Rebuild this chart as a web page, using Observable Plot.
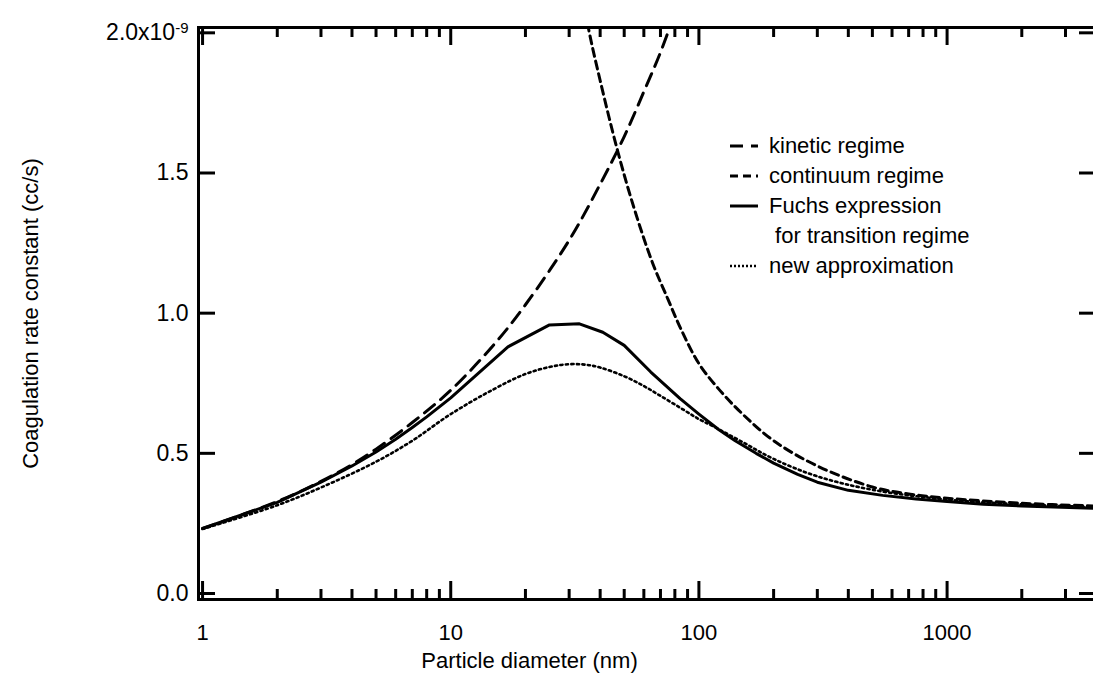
<!DOCTYPE html>
<html>
<head>
<meta charset="utf-8">
<script src="https://cdn.jsdelivr.net/npm/d3@7"></script>
<script src="https://cdn.jsdelivr.net/npm/@observablehq/plot@0.6"></script>
<style>
  html, body { margin: 0; padding: 0; background: #fff; overflow: hidden; }
  #wrap { position: relative; width: 1093px; height: 688px; overflow: hidden; }
  #legend { position: absolute; left: 729px; top: 131px; font-family: "Liberation Sans", Arial, sans-serif; font-size: 22px; color: #000; }
  #legend .row { height: 30px; display: flex; align-items: center; white-space: pre; }
  #legend svg { flex: none; margin-right: 10px; }
</style>
</head>
<body>
<div id="wrap"><div id="legend"></div></div>
<script>
// Values in units of 1e-9 cc/s
const kineticD = [1, 2, 3, 4, 5, 7, 10, 15, 20, 30, 40, 50, 60, 70, 80];
const kineticK = [0.232, 0.328, 0.40, 0.46, 0.515, 0.61, 0.725, 0.89, 1.03, 1.26, 1.46, 1.63, 1.79, 1.93, 2.07];

const continuumD = [30, 33, 36, 40, 47, 55, 65, 75, 85, 100, 120, 150, 200, 300, 500, 700, 1000, 2000, 4000];
const continuumK = [2.40, 2.20, 2.01, 1.83, 1.58, 1.37, 1.18, 1.05, 0.94, 0.82, 0.73, 0.64, 0.545, 0.455, 0.38, 0.355, 0.34, 0.322, 0.312];

const fuchsD = [1, 2, 3, 4, 5, 6, 7, 8, 10, 17, 25, 33, 41, 50, 64, 84, 100, 120, 140, 170, 200, 250, 300, 400, 550, 750, 1000, 1400, 2000, 4000];
const fuchsK = [0.232, 0.325, 0.397, 0.455, 0.505, 0.55, 0.592, 0.63, 0.698, 0.88, 0.958, 0.962, 0.932, 0.885, 0.79, 0.695, 0.64, 0.585, 0.545, 0.50, 0.465, 0.425, 0.397, 0.368, 0.35, 0.337, 0.328, 0.318, 0.312, 0.304];

const approxD = [1, 2, 3, 5, 7, 10, 15, 20, 25, 30, 35, 40, 50, 60, 70, 85, 100, 115, 150, 200, 300, 500, 1000, 2000, 4000];
const approxK = [0.23, 0.315, 0.378, 0.47, 0.545, 0.64, 0.73, 0.783, 0.808, 0.818, 0.816, 0.806, 0.775, 0.74, 0.705, 0.66, 0.622, 0.595, 0.54, 0.48, 0.418, 0.37, 0.335, 0.318, 0.308];

const xMajor = [1, 10, 100, 1000];
const xMinor = [2, 3, 4, 5, 6, 7, 8, 9, 20, 30, 40, 50, 60, 70, 80, 90, 200, 300, 400, 500, 600, 700, 800, 900, 2000, 3000];
const yMajor = [0, 0.5, 1.0, 1.5, 2.0];
const yLabels = ["0.0", "0.5", "1.0", "1.5", "2.0x10"];
const yExponent = "-9";

const xTitle = "Particle diameter (nm)";
const yTitle = "Coagulation rate constant (cc/s)";

const legendLabels = ["kinetic regime", "continuum regime", "Fuchs expression", " for transition regime", "new approximation"];
const legendDash = ["13,8", "8,5", null, "none", "2,2"];
const legendWidth = [3, 3, 3, 0, 2.5];

const zip = (D, K) => D.map((d, i) => ({d, k: K[i]}));

const width = 1093, height = 688;
const mL = 198, mR = -3, mT = 27, mB = 89;
const H = height - mT - mB;
const W = width - mL - mR;
const font = '"Liberation Sans", Arial, sans-serif';

const chart = Plot.plot({
  width, height,
  marginLeft: mL, marginRight: mR, marginTop: mT, marginBottom: mB,
  style: {fontFamily: font, fontSize: "22px", background: "white", color: "black", overflow: "visible"},
  x: {type: "log", domain: [0.963, 4000]},
  y: {domain: [-0.0214, 2.019]},
  marks: [
    Plot.line(zip(approxD, approxK), {x: "d", y: "k", stroke: "black", strokeWidth: 2.6, strokeDasharray: "2.2,3.3", curve: "catmull-rom", clip: true}),
    Plot.line(zip(continuumD, continuumK), {x: "d", y: "k", stroke: "black", strokeWidth: 3, strokeDasharray: "8,5", curve: "catmull-rom", clip: true}),
    Plot.line(zip(kineticD, kineticK), {x: "d", y: "k", stroke: "black", strokeWidth: 3, strokeDasharray: "13,8", curve: "catmull-rom", clip: true}),
    Plot.line(zip(fuchsD, fuchsK), {x: "d", y: "k", stroke: "black", strokeWidth: 3, clip: true}),
    Plot.tickX(xMajor, {x: d => d, insetTop: H - 18, stroke: "black", strokeWidth: 3}),
    Plot.tickX(xMajor, {x: d => d, insetBottom: H - 18, stroke: "black", strokeWidth: 3}),
    Plot.tickX(xMinor, {x: d => d, insetTop: H - 10, stroke: "black", strokeWidth: 3}),
    Plot.tickX(xMinor, {x: d => d, insetBottom: H - 10, stroke: "black", strokeWidth: 3}),
    Plot.tickY(yMajor, {y: d => d, insetRight: W - 17, stroke: "black", strokeWidth: 3}),
    Plot.tickY(yMajor, {y: d => d, insetLeft: W - 17, stroke: "black", strokeWidth: 3}),
    Plot.axisX({ticks: xMajor, tickSize: 0, tickPadding: 25, tickFormat: d => String(d), label: null, fontSize: 22}),
    Plot.axisY({ticks: yMajor, tickSize: 0, tickPadding: 10, tickFormat: d => yLabels[yMajor.indexOf(d)], label: null, fontSize: 23}),
    Plot.frame({stroke: "black", strokeWidth: 3}),
    Plot.text([xTitle], {frameAnchor: "bottom", dy: 68, dx: -118, text: d => d, fontSize: 22}),
    Plot.text([yTitle], {frameAnchor: "left", dx: -168, rotate: -90, textAnchor: "middle", text: d => d, fontSize: 22})
  ]
});

// superscript exponent on the top y label
chart.querySelectorAll("text").forEach(t => {
  if (t.textContent === yLabels[yLabels.length - 1]) {
    const ts = document.createElementNS("http://www.w3.org/2000/svg", "tspan");
    ts.setAttribute("dy", "-0.5em");
    ts.setAttribute("font-size", "15px");
    ts.textContent = yExponent;
    t.appendChild(ts);
  }
});

document.getElementById("wrap").prepend(chart);

// legend
const legend = document.getElementById("legend");
legendLabels.forEach((lab, i) => {
  const row = document.createElement("div");
  row.className = "row";
  const svg = d3.create("svg").attr("width", 30).attr("height", 10);
  if (legendDash[i] !== "none") {
    svg.append("line").attr("x1", 1).attr("x2", 29).attr("y1", 5).attr("y2", 5)
      .attr("stroke", "black").attr("stroke-width", legendWidth[i])
      .attr("stroke-dasharray", legendDash[i] || null);
  }
  row.appendChild(svg.node());
  const span = document.createElement("span");
  span.textContent = lab;
  row.appendChild(span);
  legend.appendChild(row);
});
</script>
</body>
</html>
